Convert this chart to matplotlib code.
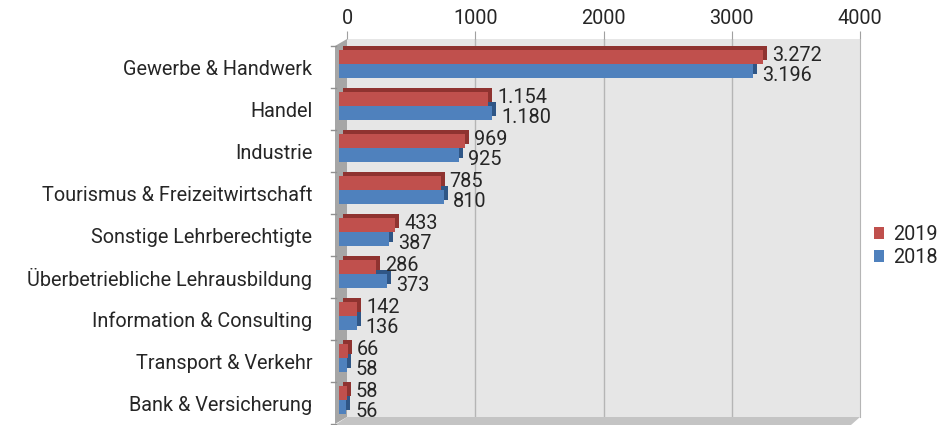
import matplotlib
matplotlib.use("Agg")
import matplotlib.pyplot as plt
import matplotlib.transforms as mtransforms
from matplotlib.patches import Polygon, Patch

categories = ["Gewerbe & Handwerk", "Handel", "Industrie",
              "Tourismus & Freizeitwirtschaft", "Sonstige Lehrberechtigte",
              "Überbetriebliche Lehrausbildung", "Information & Consulting",
              "Transport & Verkehr", "Bank & Versicherung"]
values_2019 = [3272, 1154, 969, 785, 433, 286, 142, 66, 58]
values_2018 = [3196, 1180, 925, 810, 387, 373, 136, 58, 56]
xticks = [0, 1000, 2000, 3000, 4000]

RED, RED_D = "#c0504d", "#8f3330"
BLUE, BLUE_D = "#4f81bd", "#2f5686"
TXT = "#262626"
FONT = "Roboto"
FS = 14.3

W, H = 940, 425
fig = plt.figure(figsize=(W / 100, H / 100), dpi=100)

# back wall in pixel coordinates
L, R, T, B = 347, 860, 39, 417
ax = fig.add_axes([L / W, (H - B) / H, (R - L) / W, (B - T) / H])
ax.set_facecolor("#e6e6e6")
n = len(categories)
ax.set_xlim(0, 4000)
ax.set_ylim(n - 0.667, -0.667)
for s in ["left", "bottom", "top"]:
    ax.spines[s].set_visible(False)
ax.spines["right"].set_color("#b5b5b5")
ax.xaxis.tick_top()
ax.set_xticks(xticks)
ax.set_xticklabels([str(t) for t in xticks], fontsize=FS, color=TXT, family=FONT)
ax.tick_params(axis="x", length=6, color="#a0a0a0", pad=2)
for t in xticks[1:-1]:
    ax.axvline(t, color="#b5b5b5", lw=1, zorder=0.5)

ypos = list(range(n))
ax.set_yticks(ypos)
ax.set_yticklabels(categories, fontsize=FS, color=TXT, family=FONT)
ax.tick_params(axis="y", length=0, pad=25)

# left wall and floor (decorative 3D frame), drawn below the axes
fig.patches.append(Polygon([(L, H - T), (L, H - B), (335, H - 424), (335, H - 46)],
                           closed=True, facecolor="#a6a6a6", edgecolor="none",
                           transform=None, figure=fig, zorder=-2))
fig.patches.append(Polygon([(L, H - B), (R, H - B), (851, H - 425), (335, H - 425)],
                           closed=True, facecolor="#c4c4c4", edgecolor="none",
                           transform=None, figure=fig, zorder=-1))
# y tick marks on the front edge of left wall
tick_tr = ax.get_yaxis_transform() + mtransforms.Affine2D().translate(-11, 0)
for i in range(n + 1):
    ax.plot([-5 / 513, 0], [i - 0.5, i - 0.5], color="#909090", lw=1,
            transform=tick_tr, clip_on=False, zorder=3)

# 3D-like bars
h = 0.333
front = ax.transData + mtransforms.Affine2D().translate(-L, 0).scale(1.01, 1).translate(L - 8, 3)
shadow = front + mtransforms.Affine2D().translate(4, 4)
y19 = [y - h / 2 for y in ypos]
y18 = [y + h / 2 for y in ypos]
ax.barh(y18, values_2018, height=h, color=BLUE_D, transform=shadow, zorder=2, clip_on=False)
ax.barh(y18, values_2018, height=h, color=BLUE, transform=front, zorder=3, clip_on=False)
ax.barh(y19, values_2019, height=h, color=RED_D, transform=shadow, zorder=4, clip_on=False)
ax.barh(y19, values_2019, height=h, color=RED, transform=front, zorder=5, clip_on=False)


def fmt(v):
    return f"{v:,}".replace(",", ".")


for y, v in zip(y19, values_2019):
    ax.annotate(fmt(v), (v, y), xycoords=front, xytext=(6.5, 1), textcoords="offset points",
                ha="left", va="center", fontsize=FS, color=TXT, family=FONT,
                annotation_clip=False, zorder=6)
for y, v in zip(y18, values_2018):
    ax.annotate(fmt(v), (v, y), xycoords=front, xytext=(6.5, -3), textcoords="offset points",
                ha="left", va="center", fontsize=FS, color=TXT, family=FONT,
                annotation_clip=False, zorder=6)

handles = [Patch(facecolor=RED, label="2019"), Patch(facecolor=BLUE, label="2018")]
fig.legend(handles=handles, loc="upper left", bbox_to_anchor=(866 / W, (H - 217) / H),
           frameon=False, prop={"family": FONT, "size": FS}, handlelength=0.5,
           handleheight=0.5, handletextpad=0.45, labelspacing=0.2, borderaxespad=0,
           labelcolor=TXT)

fig.savefig("out.png", dpi=100)
